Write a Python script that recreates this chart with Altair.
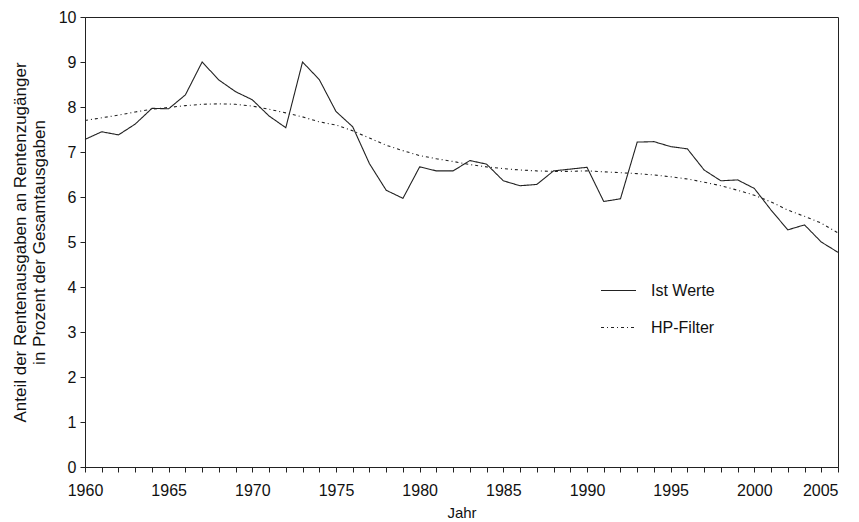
import altair as alt
import pandas as pd

years = list(range(1960, 2006))
ist_werte = [7.28, 7.45, 7.38, 7.62, 7.97, 7.96, 8.27, 9.0, 8.6, 8.34,
             8.16, 7.8, 7.54, 9.0, 8.61, 7.9, 7.56, 6.74, 6.15, 5.97,
             6.67, 6.58, 6.58, 6.81, 6.73, 6.36, 6.25, 6.28, 6.58, 6.62,
             6.66, 5.9, 5.96, 7.22, 7.23, 7.12, 7.07, 6.6, 6.36, 6.38,
             6.19, 5.71, 5.27, 5.38, 5.0, 4.77]
hp_filter = [7.7, 7.76, 7.82, 7.89, 7.95, 7.99, 8.03, 8.06, 8.07, 8.06,
             8.02, 7.95, 7.87, 7.78, 7.67, 7.6, 7.47, 7.31, 7.15, 7.03,
             6.92, 6.85, 6.79, 6.72, 6.67, 6.63, 6.6, 6.58, 6.57, 6.57,
             6.58, 6.56, 6.54, 6.52, 6.49, 6.45, 6.4, 6.33, 6.25, 6.15,
             6.04, 5.89, 5.71, 5.57, 5.42, 5.2]
series_names = ["Ist Werte", "HP-Filter"]

df = pd.concat([
    pd.DataFrame({"Jahr": years, "Wert": ist_werte, "Serie": series_names[0]}),
    pd.DataFrame({"Jahr": years, "Wert": hp_filter, "Serie": series_names[1]}),
])

font = "Liberation Sans"

chart = alt.Chart(df).mark_line(strokeWidth=1.1, color="#222222").encode(
    x=alt.X("Jahr:Q",
            scale=alt.Scale(domain=[1960, 2005], nice=False, zero=False),
            axis=alt.Axis(values=years, format="d",
                          labelExpr="datum.value % 5 === 0 ? datum.label : ''",
                          labelOverlap=False, labelFlush=False, grid=False,
                          labelAlign={"condition": {"test": "datum.value >= 2005",
                                                    "value": "right"},
                                      "value": "center"},
                          tickSize=5, labelPadding=10, labelFontSize=16,
                          title="Jahr", titleFontSize=15,
                          titleFontWeight="normal", titlePadding=7)),
    y=alt.Y("Wert:Q",
            scale=alt.Scale(domain=[0, 10], nice=False),
            axis=alt.Axis(values=list(range(0, 11)), grid=False, tickSize=5,
                          labelPadding=4, labelFontSize=16,
                          title=["Anteil der Rentenausgaben an Rentenzugänger",
                                 "in Prozent der Gesamtausgaben"],
                          titleFontSize=17, titleFontWeight="normal",
                          titlePadding=10, titleLineHeight=19)),
    strokeDash=alt.StrokeDash(
        "Serie:N",
        scale=alt.Scale(domain=series_names, range=[[1, 0], [3, 3, 1, 3]]),
        legend=alt.Legend(orient="none", legendX=515, legendY=255, title=None,
                          symbolType="stroke", symbolSize=1225,
                          symbolStrokeWidth=1.1, symbolStrokeColor="#222222",
                          labelFontSize=16, labelOffset=14, rowPadding=10)),
).properties(
    width=753, height=450,
    autosize=alt.AutoSizeParams(type="none"),
    padding={"left": 77, "top": 9, "right": 13, "bottom": 54},
).configure(
    font=font,
).configure_axis(
    domainColor="#222222", tickColor="#222222", labelColor="#111111",
    titleColor="#111111", labelFont=font, titleFont=font,
).configure_view(
    stroke="#222222", strokeWidth=1,
).configure_legend(
    labelFont=font, labelColor="#111111",
)

chart.save("out.html", embed_options={"renderer": "svg", "actions": False})
